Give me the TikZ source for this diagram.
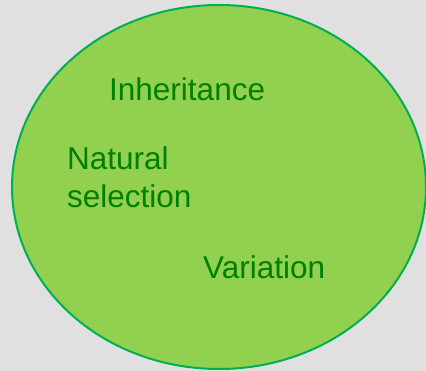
\documentclass[tikz,border=0pt]{standalone}
\usepackage{fontspec}
\setmainfont{Liberation Sans}

\definecolor{bggray}{HTML}{E0E0E0}
\definecolor{leafgreen}{HTML}{92D050}
\definecolor{rimgreen}{HTML}{00B050}
\definecolor{labelgreen}{HTML}{008000}

\begin{document}
\begin{tikzpicture}[x=1pt, y=1pt,
		word/.style={anchor=base west, inner sep=0pt, align=left, text=labelgreen,
			font=\fontsize{31.5}{38}\selectfont}]
		% Fond gris
		\fill[bggray] (0,0) rectangle (426,371);
		\useasboundingbox (0,0) rectangle (426,371);

		% Ellipse verte
		\draw[rimgreen, line width=2pt, fill=leafgreen] (219,184) ellipse [x radius=207, y radius=182];

		% Les trois mots (base = ligne du bas)
		\node[word] (inherit) at (109,270) {Inheritance};
		\node[word] (natsel) at (67,163) {Natural\\selection};
		\node[word] (variation) at (203,92) {Variation};
	\end{tikzpicture}
\end{document}
